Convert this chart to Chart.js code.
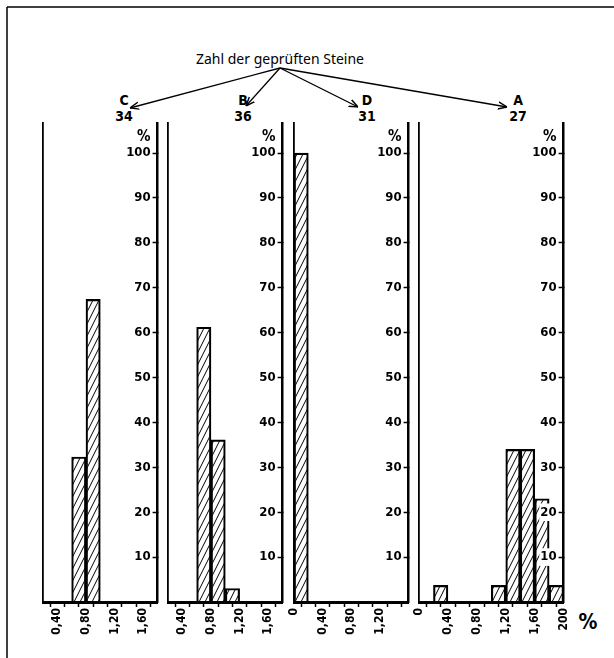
<!DOCTYPE html>
<html>
<head>
<meta charset="utf-8">
<script src="https://cdn.jsdelivr.net/npm/chart.js@4.4.1/dist/chart.umd.min.js"></script>
<style>
  body { margin: 0; background: #fff; }
  #page { position: relative; width: 614px; height: 658px; background: #fff; overflow: hidden; }
  #page canvas { position: absolute; top: 0; }
  #deco { position: absolute; left: 0; top: 0; }
  .lbl { font-family: 'DejaVu Sans Condensed', 'DejaVu Sans', sans-serif; font-weight: bold; font-size: 14px; fill: #000; }
</style>
</head>
<body>
<div id="page">
  <svg id="deco" width="614" height="658">
    <defs>
      <marker id="head" viewBox="0 0 10 10" refX="10" refY="5" markerWidth="9" markerHeight="9" orient="auto-start-reverse" markerUnits="userSpaceOnUse">
        <path d="M0,1 L10,5 L0,9" fill="none" stroke="#000" stroke-width="1.6"/>
      </marker>
    </defs>
    <line x1="7" y1="7" x2="614" y2="7" stroke="#000" stroke-width="1.5"/>
    <line x1="7" y1="7" x2="7" y2="658" stroke="#000" stroke-width="1.5"/>
    <text x="280" y="64" text-anchor="middle" textLength="168" lengthAdjust="spacingAndGlyphs"
          style="font-family:'Noto Sans',sans-serif;font-size:13.5px;">Zahl der geprüften Steine</text>
    <g id="arrows"></g>
    <text x="588" y="629" text-anchor="middle" class="lbl" style="font-size:21px">%</text>
  </svg>
  <canvas id="panelC"></canvas>
  <canvas id="panelB"></canvas>
  <canvas id="panelD"></canvas>
  <canvas id="panelA"></canvas>
</div>
<script>
// Panels in drawing order and number of tested stones
const panels = ['C', 'B', 'D', 'A'];
const stoneCounts = [34, 36, 31, 27];

// lower edge of each class (class width 0.20) and share in %
const binsC = [0.6, 0.8];
const valuesC = [32.3, 67.4];
const binsB = [0.6, 0.8, 1.0];
const valuesB = [61.2, 36.1, 3.0];
const binsD = [0];
const valuesD = [100];
const binsA = [0.2, 1.0, 1.2, 1.4, 1.6, 1.8];
const valuesA = [3.7, 3.7, 34, 34, 23, 3.7];

// x tick labels per panel
const xTickValsC = [0.4, 0.8, 1.2, 1.6];
const xTickTextC = ['0,40', '0,80', '1,20', '1,60'];
const xTickValsB = [0.4, 0.8, 1.2, 1.6];
const xTickTextB = ['0,40', '0,80', '1,20', '1,60'];
const xTickValsD = [0, 0.4, 0.8, 1.2];
const xTickTextD = ['0', '0,40', '0,80', '1,20'];
const xTickValsA = [0, 0.4, 0.8, 1.2, 1.6, 2.0];
const xTickTextA = ['0', '0,40', '0,80', '1,20', '1,60', '200'];

const yTicks = [10, 20, 30, 40, 50, 60, 70, 80, 90, 100];

// layout
const BIN = 0.2;
const PX_PER_UNIT = 75;
const PAD = 10;
const H = 658;
const TOP = 123;
const BOTTOM = 602;
const XAXIS_H = 40;
const Y_MAX = 106.7;
const PCT_POS = 103.6;   // where the "%" sits on each y axis
const FONT = "'DejaVu Sans Condensed', 'DejaVu Sans', sans-serif";

function makeHatch() {
  const c = document.createElement('canvas');
  const w = 6, h = 12;
  c.width = w; c.height = h;
  const g = c.getContext('2d');
  g.strokeStyle = '#000';
  g.lineWidth = 1;
  const offs = [[-w, 0], [0, 0], [w, 0], [0, -h], [0, h], [-w, h], [w, -h]];
  offs.forEach(([dx, dy]) => {
    g.beginPath();
    g.moveTo(dx, dy + h);
    g.lineTo(dx + w, dy);
    g.stroke();
  });
  return g.createPattern(c, 'repeat');
}
const hatch = makeHatch();

function makePanel(id, left, xMin, xMax, bins, values, tickVals, tickText) {
  const canvas = document.getElementById(id);
  canvas.width = Math.round((xMax - xMin) * PX_PER_UNIT) + 2 * PAD;
  canvas.height = H;
  canvas.style.left = (left - PAD) + 'px';

  new Chart(canvas, {
    type: 'bar',
    data: {
      datasets: [{
        data: bins.map((b, i) => ({ x: b + BIN / 2, y: values[i] })),
        backgroundColor: hatch,
        borderColor: '#000',
        borderWidth: 1.5,
        barPercentage: 1,
        categoryPercentage: 1
      }]
    },
    options: {
      responsive: false,
      animation: false,
      devicePixelRatio: 1,
      layout: { padding: { top: TOP, left: PAD, right: PAD, bottom: H - BOTTOM - XAXIS_H } },
      plugins: { legend: { display: false }, tooltip: { enabled: false } },
      scales: {
        x: {
          type: 'linear',
          min: xMin,
          max: xMax,
          offset: false,
          afterFit: s => { s.height = XAXIS_H; },
          grid: { drawOnChartArea: false, drawTicks: true, tickLength: 5, tickColor: '#000', tickWidth: 1.5 },
          border: { color: '#000', width: 3, z: 1 },
          ticks: {
            stepSize: BIN,
            autoSkip: false,
            maxRotation: 90,
            minRotation: 90,
            padding: 1,
            color: '#000',
            font: { family: FONT, size: 12, weight: 'bold' },
            callback: v => {
              const i = tickVals.findIndex(t => Math.abs(t - v) < 1e-6);
              return i < 0 ? '' : tickText[i];
            }
          }
        },
        y: {
          position: 'right',
          min: 0,
          max: Y_MAX,
          afterFit: s => { s.width = 0; },
          afterBuildTicks: s => {
            s.ticks = yTicks.map(v => ({ value: v })).concat([{ value: PCT_POS }]);
          },
          grid: {
            drawOnChartArea: false,
            tickLength: -5,
            tickWidth: 1.5,
            tickColor: ctx => (ctx.tick && ctx.tick.value > 100 ? 'rgba(0,0,0,0)' : '#000')
          },
          border: { color: '#000', width: 2.5, z: 1 },
          ticks: {
            mirror: true,
            padding: -7,
            z: 1,
            showLabelBackdrop: true,
            backdropColor: '#fff',
            backdropPadding: 1,
            color: '#000',
            font: ctx => ({ family: FONT, size: (ctx.tick && ctx.tick.value > 100) ? 15 : 13, weight: 'bold' }),
            callback: v => (v > 100 ? '%' : String(v))
          }
        },
        yl: {
          position: 'left',
          min: 0,
          max: Y_MAX,
          afterFit: s => { s.width = 0; },
          grid: { drawOnChartArea: false, drawTicks: false },
          border: { color: '#000', width: 1.8, z: 1 },
          ticks: { display: false }
        }
      }
    }
  });
}

makePanel('panelC', 43, 0.2, 1.8, binsC, valuesC, xTickValsC, xTickTextC);
makePanel('panelB', 168, 0.2, 1.8, binsB, valuesB, xTickValsB, xTickTextB);
makePanel('panelD', 294, 0, 1.6, binsD, valuesD, xTickValsD, xTickTextD);
makePanel('panelA', 419, 0, 2.0, binsA, valuesA, xTickValsA, xTickTextA);

// "Zahl der geprüften Steine" arrows with panel letters and counts
const apex = [280, 68];
const arrowTips = [[130, 108], [246, 106], [358, 107], [507, 107]];
const labelX = [124, 243, 367, 518];
const ns = 'http://www.w3.org/2000/svg';
const g = document.getElementById('arrows');
panels.forEach((p, i) => {
  const ln = document.createElementNS(ns, 'line');
  ln.setAttribute('x1', apex[0]); ln.setAttribute('y1', apex[1]);
  ln.setAttribute('x2', arrowTips[i][0]); ln.setAttribute('y2', arrowTips[i][1]);
  ln.setAttribute('stroke', '#000'); ln.setAttribute('stroke-width', '1.3');
  ln.setAttribute('marker-end', 'url(#head)');
  g.appendChild(ln);
  const t1 = document.createElementNS(ns, 'text');
  t1.setAttribute('x', labelX[i]); t1.setAttribute('y', 105);
  t1.setAttribute('text-anchor', 'middle'); t1.setAttribute('class', 'lbl');
  t1.textContent = p;
  g.appendChild(t1);
  const t2 = document.createElementNS(ns, 'text');
  t2.setAttribute('x', labelX[i]); t2.setAttribute('y', 121);
  t2.setAttribute('text-anchor', 'middle'); t2.setAttribute('class', 'lbl');
  t2.textContent = stoneCounts[i];
  g.appendChild(t2);
});
</script>
</body>
</html>
